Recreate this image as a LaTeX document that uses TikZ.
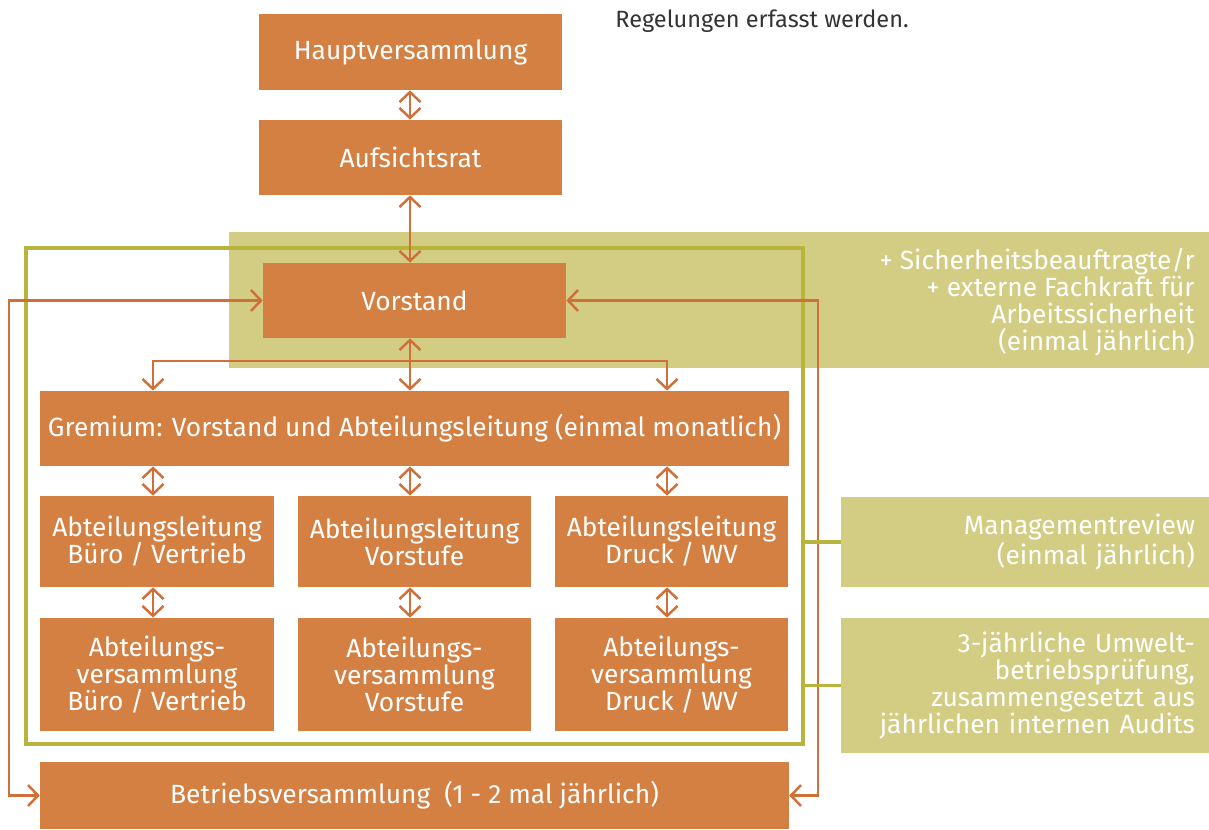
\documentclass[tikz,border=0pt]{standalone}
\usepackage{fontspec}
\setmainfont{Fira Sans}
\usetikzlibrary{arrows.meta,positioning,calc}
\definecolor{boxorange}{HTML}{D48043}
\definecolor{lineorange}{HTML}{D06F38}
\definecolor{bandgreen}{HTML}{D3CD84}
\definecolor{framegreen}{HTML}{B9B43C}
\definecolor{textgray}{HTML}{333333}
\newcommand{\boxfont}{\fontsize{15}{15.4}\selectfont}

\begin{document}
\begin{tikzpicture}[x=0.02cm,y=-0.02cm,>={Straight Barb[length=0.2cm,width=0.42cm]}]
  \tikzstyle{box}=[fill=boxorange,text=white,inner sep=0pt,align=center,font=\boxfont]
  \tikzstyle{note}=[fill=bandgreen,text=white,inner sep=0pt,align=right,text width=6.8cm,font=\boxfont]
  \tikzstyle{link}=[draw=lineorange,line width=1.4pt]
  \tikzstyle{frame}=[draw=framegreen,line width=1.9pt]
  \useasboundingbox (0,0) rectangle (1209,830);
  \fill[bandgreen] (229,232) rectangle (1209,368);
  \draw[frame] (26,248) rectangle (803,744);
  \coordinate (frameNE) at (803,248);
  \coordinate (c1) at (153,0);
  \coordinate (c2) at (410,0);
  \coordinate (c3) at (667,0);
  \coordinate (lft) at (9,0);
  \coordinate (rgt) at (818,0);
  \coordinate (hub) at (410,361);
  \node[anchor=base west,text=textgray,font=\fontsize{13.4}{15}\selectfont,inner sep=0pt] (regel) at (615,28) {Regelungen erfasst werden.};
  \node[box,minimum width=6.06cm,minimum height=1.52cm] (hv) at (410.5,52) {Hauptversammlung};
  \node[box,minimum width=6.06cm,minimum height=1.5cm] (ar) at (410.5,157.5) {Aufsichtsrat};
  \node[box,minimum width=6.06cm,minimum height=1.5cm] (vs) at (414.5,300.5) {Vorstand};
  \node[anchor=east,text=white,align=right,inner sep=0pt,font=\boxfont] (sifa) at (1195,302) {+ Sicherheitsbeauftragte/r\\+ externe Fachkraft für\\Arbeitssicherheit\\(einmal jährlich)};
  \node[box,minimum width=14.98cm,minimum height=1.5cm] (gr) at (414.5,428.5) {Gremium: Vorstand und Abteilungsleitung (einmal monatlich)};
  \node[box,minimum width=4.68cm,minimum height=1.82cm] (al1) at (157,541.5) {Abteilungsleitung\\Büro / Vertrieb};
  \node[box,minimum width=4.68cm,minimum height=1.82cm] (al2) at (414.5,541.5) {Abteilungsleitung\\Vorstufe};
  \node[box,minimum width=4.68cm,minimum height=1.82cm] (al3) at (671.5,541.5) {Abteilungsleitung\\Druck / WV};
  \node[box,minimum width=4.68cm,minimum height=2.26cm] (av1) at (157,674.5) {Abteilungs-\\versammlung\\Büro / Vertrieb};
  \node[box,minimum width=4.68cm,minimum height=2.26cm] (av2) at (414.5,674.5) {Abteilungs-\\versammlung\\Vorstufe};
  \node[box,minimum width=4.68cm,minimum height=2.26cm] (av3) at (671.5,674.5) {Abteilungs-\\versammlung\\Druck / WV};
  \node[box,minimum width=14.98cm,minimum height=1.34cm] (bv) at (414.5,795.5) {Betriebsversammlung~~(1 - 2 mal jährlich)};
  \node[note,minimum width=7.36cm,minimum height=1.8cm] (mr) at (1025,542) {Managementreview\\(einmal jährlich)};
  \node[note,minimum width=7.36cm,minimum height=2.7cm] (up) at (1025,685.5) {3-jährliche Umwelt-\\betriebsprüfung,\\zusammengesetzt aus\\jährlichen internen Audits};
  \draw[link,<->] (hv.south -| c2) -- (ar.north -| c2);
  \draw[link,<->] (ar.south -| c2) -- (vs.north -| c2);
  \draw[link,<->] (vs.south -| c2) -- (gr.north -| c2);
  \draw[link,->] (hub) -| (gr.north -| c1);
  \draw[link,->] (hub) -| (gr.north -| c3);
  \draw[link,<->] (gr.south -| c1) -- (al1.north -| c1);
  \draw[link,<->] (gr.south -| c2) -- (al2.north -| c2);
  \draw[link,<->] (gr.south -| c3) -- (al3.north -| c3);
  \draw[link,<->] (al1.south -| c1) -- (av1.north -| c1);
  \draw[link,<->] (al2.south -| c2) -- (av2.north -| c2);
  \draw[link,<->] (al3.south -| c3) -- (av3.north -| c3);
  \draw[link,<->] (vs.west) -- (lft |- vs.west) |- (bv.west);
  \draw[link,<->] (vs.east) -- (rgt |- vs.east) |- (bv.east);
  \draw[frame] (mr.west) -- (mr.west -| frameNE);
  \draw[frame] (up.west) -- (up.west -| frameNE);
\end{tikzpicture}
\end{document}
